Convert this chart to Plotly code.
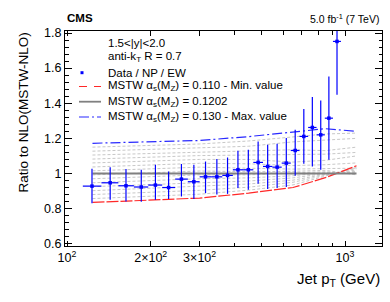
import plotly.graph_objects as go

# ---------------- data ----------------
pt_lo = [114, 133, 153, 174, 196, 220, 245, 272, 300, 330, 362, 395, 430, 468,
         507, 548, 592, 638, 686, 737, 790, 846, 905]
pt_hi = [133, 153, 174, 196, 220, 245, 272, 300, 330, 362, 395, 430, 468, 507,
         548, 592, 638, 686, 737, 790, 846, 905, 967]
pt_center = [123, 143, 163, 185, 208, 232, 258, 286, 315, 346, 378, 412, 449, 487,
             527, 570, 615, 662, 711, 763, 818, 875, 936]
ratio = [0.928, 0.947, 0.930, 0.923, 0.934, 0.920, 0.968, 0.953, 0.981, 0.981,
         0.989, 1.021, 1.021, 1.063, 1.040, 1.036, 1.059, 1.131, 1.211, 1.262,
         1.220, 1.315, 1.752]
err_up = [0.099, 0.089, 0.095, 0.098, 0.116, 0.091, 0.086, 0.097, 0.087, 0.101,
          0.102, 0.108, 0.114, 0.119, 0.123, 0.133, 0.143, 0.118, 0.156, 0.173,
          0.196, 0.237, 0.100]
err_dn = [0.097, 0.097, 0.089, 0.084, 0.084, 0.066, 0.099, 0.099, 0.093, 0.101,
          0.105, 0.104, 0.114, 0.122, 0.129, 0.119, 0.136, 0.144, 0.156, 0.222,
          0.199, 0.237, 0.304]

theory_pt = [123.5, 200, 300, 450, 650, 850, 1100]
as_min_0110 = [0.835, 0.850, 0.860, 0.888, 0.920, 0.976, 1.044]
as_cen_01202 = [1.0, 1.0, 1.0, 1.0, 1.0, 1.0, 1.0]
as_max_0130 = [1.172, 1.180, 1.188, 1.210, 1.238, 1.255, 1.240]
as_scan = [
    [0.857, 0.872, 0.882, 0.905, 0.935, 0.985, 1.035],
    [0.880, 0.894, 0.904, 0.922, 0.950, 0.990, 1.028],
    [0.902, 0.916, 0.926, 0.940, 0.962, 0.995, 1.020],
    [0.925, 0.938, 0.948, 0.957, 0.975, 1.000, 1.012],
    [0.947, 0.960, 0.970, 0.975, 0.987, 1.005, 1.005],
    [0.970, 0.982, 0.992, 0.992, 1.000, 1.010, 0.998],
    [0.992, 1.004, 1.014, 1.010, 1.012, 1.018, 0.992],
    [1.015, 1.026, 1.036, 1.030, 1.025, 1.028, 1.030],
    [1.037, 1.048, 1.058, 1.055, 1.045, 1.050, 1.060],
    [1.060, 1.070, 1.080, 1.080, 1.065, 1.075, 1.100],
    [1.082, 1.092, 1.102, 1.105, 1.110, 1.110, 1.120],
    [1.105, 1.114, 1.124, 1.130, 1.135, 1.130, 1.150],
    [1.127, 1.136, 1.146, 1.155, 1.180, 1.190, 1.200],
    [1.150, 1.158, 1.168, 1.185, 1.210, 1.225, 1.230],
]

x_tickvals = [100, 200, 300, 1000]
x_ticktext = ["10<sup>2</sup>", "2×10<sup>2</sup>", "3×10<sup>2</sup>", "10<sup>3</sup>"]
x_minor = [400, 500, 600, 700, 800, 900]

# ---------------- style / layout ----------------
W, H = 390, 302
ML, MR, MT, MB = 65, 8, 31, 56
PW, PH = W - ML - MR, H - MT - MB
FONT = "Liberation Sans"
RED = "rgb(255,40,40)"
BLUE = "rgb(40,40,255)"
GRAY = "rgb(128,128,128)"
LGRAY = "rgb(200,200,200)"
DATA_BLUE = "rgb(0,0,255)"


def px(xp):
    return (xp - ML) / PW


def py(yp):
    return (H - MB - yp) / PH


fig = go.Figure()

for row in as_scan:
    fig.add_trace(go.Scatter(x=theory_pt, y=row, mode="lines", showlegend=False,
                             line=dict(color=LGRAY, width=1, dash="3px,2px")))

fig.add_trace(go.Scatter(x=theory_pt, y=as_min_0110, mode="lines", showlegend=False,
                         line=dict(color=RED, width=1.2, dash="12px,2px")))
fig.add_trace(go.Scatter(x=theory_pt, y=as_max_0130, mode="lines", showlegend=False,
                         line=dict(color=BLUE, width=1.2, dash="10px,3px,2px,3px")))
fig.add_trace(go.Scatter(x=theory_pt, y=as_cen_01202, mode="lines", showlegend=False,
                         line=dict(color=GRAY, width=1.8)))

ex_plus = [h - c for h, c in zip(pt_hi, pt_center)]
ex_minus = [c - l for c, l in zip(pt_center, pt_lo)]
fig.add_trace(go.Scatter(
    x=pt_center, y=ratio, mode="markers", showlegend=False,
    marker=dict(symbol="square", size=3.5, color=DATA_BLUE, line=dict(width=0)),
    error_x=dict(type="data", symmetric=False, array=ex_plus, arrayminus=ex_minus,
                 color=DATA_BLUE, thickness=1.2, width=0),
    error_y=dict(type="data", symmetric=False, array=err_up, arrayminus=err_dn,
                 color=DATA_BLUE, thickness=1.2, width=0),
))

# ---------------- legend (manual, ROOT-like) ----------------
shapes = []
shapes.append(dict(type="rect", xref="paper", yref="paper",
                   x0=px(80.5), x1=px(83.5), y0=py(74.2), y1=py(71.2),
                   fillcolor=DATA_BLUE, line=dict(width=0)))
shapes.append(dict(type="line", xref="paper", yref="paper",
                   x0=px(79), x1=px(101), y0=py(86.5), y1=py(86.5),
                   line=dict(color=RED, width=1.2, dash="8px,7px")))
shapes.append(dict(type="line", xref="paper", yref="paper",
                   x0=px(79), x1=px(101), y0=py(101.7), y1=py(101.7),
                   line=dict(color=GRAY, width=1.8)))
shapes.append(dict(type="line", xref="paper", yref="paper",
                   x0=px(79), x1=px(101), y0=py(117), y1=py(117),
                   line=dict(color=BLUE, width=1.2, dash="10px,3px,2px,3px")))

ann = []
leg_font = dict(family=FONT, size=11.5, color="black")
for txt, yy in [("1.5<|y|<2.0", 42.7),
                ("anti-k<sub>T</sub> R = 0.7", 57),
                ("Data / NP / EW", 72.7),
                ("MSTW α<sub>s</sub>(M<sub>Z</sub>) = 0.110 - Min. value", 86.5),
                ("MSTW α<sub>s</sub>(M<sub>Z</sub>) = 0.1202", 101.7),
                ("MSTW α<sub>s</sub>(M<sub>Z</sub>) = 0.130 - Max. value", 117)]:
    ann.append(dict(text=txt, xref="paper", yref="paper", x=px(106), y=py(yy),
                    xanchor="left", yanchor="middle", showarrow=False, font=leg_font))

ann.append(dict(text="<b>CMS</b>", xref="paper", yref="paper", x=px(65), y=py(18),
                xanchor="left", yanchor="middle", showarrow=False,
                font=dict(family=FONT, size=11.5, color="black")))
ann.append(dict(text="5.0 fb<sup>-1</sup> (7 TeV)", xref="paper", yref="paper",
                x=px(381), y=py(18), xanchor="right", yanchor="middle", showarrow=False,
                font=dict(family=FONT, size=10.5, color="black")))
ann.append(dict(text="Ratio to NLO(MSTW-NLO)", xref="paper", yref="paper",
                x=px(22.5), y=1.0, xanchor="center", yanchor="top", textangle=-90,
                showarrow=False, font=dict(family=FONT, size=13.5, color="black")))
ann.append(dict(text="Jet p<sub>T</sub> (GeV)", xref="paper", yref="paper",
                x=px(382), y=py(279), xanchor="right", yanchor="middle",
                showarrow=False, font=dict(family=FONT, size=15, color="black")))

fig.update_layout(
    width=W, height=H,
    margin=dict(l=ML, r=MR, t=MT, b=MB, pad=0),
    paper_bgcolor="white", plot_bgcolor="white",
    font=dict(family=FONT, size=12.5, color="black"),
    showlegend=False,
    shapes=shapes, annotations=ann,
    xaxis=dict(type="log", range=[1.9928, 3.1331], showgrid=False, zeroline=False,
               showline=True, linecolor="black", linewidth=1, mirror="ticks",
               ticks="inside", ticklen=5, tickcolor="black", tickwidth=1,
               tickmode="array", tickvals=x_tickvals, ticktext=x_ticktext,
               tickfont=dict(family=FONT, size=12.5),
               minor=dict(tickmode="array", tickvals=x_minor, ticks="inside",
                          ticklen=3.5, tickcolor="black", showgrid=False)),
    yaxis=dict(range=[0.587, 1.8114], showgrid=False, zeroline=False,
               showline=True, linecolor="black", linewidth=1, mirror="ticks",
               ticks="inside", ticklen=7, tickcolor="black", tickwidth=1,
               tick0=0.6, dtick=0.2, tickfont=dict(family=FONT, size=12.5),
               minor=dict(tick0=0.6, dtick=0.04, ticks="inside", ticklen=3.5,
                          tickcolor="black", showgrid=False)),
)

fig.write_html("out.html", config={"displayModeBar": False},
               post_script="document.body.style.margin='0';document.body.style.padding='0';")
